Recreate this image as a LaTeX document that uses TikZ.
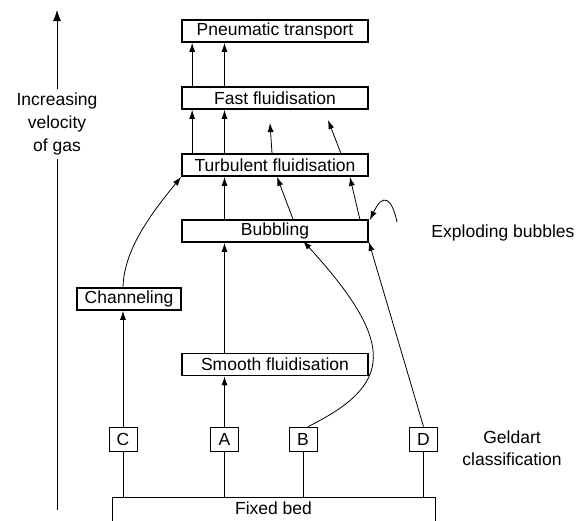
\documentclass[tikz,border=0pt]{standalone}
\usepackage{fontspec}
\setmainfont{Liberation Sans}
\usepackage{tikz}
\usetikzlibrary{positioning}
\usetikzlibrary{calc}
\usepgflibrary{arrows.meta}

\begin{document}
\begin{tikzpicture}[x=1pt, y=-1pt,
    font=\fontsize{17.5}{22}\selectfont,
    regime/.style={draw, line width=1.7pt, minimum width=186pt, minimum height=22pt, inner sep=0pt},
    group/.style={draw, line width=0.8pt, minimum width=28pt, minimum height=24pt, inner sep=0pt},
    flow/.style={draw, line width=0.8pt, -{Latex[length=9pt, width=6pt]}},
    link/.style={draw, line width=0.8pt}]
    \useasboundingbox (0, 0) rectangle (586, 520);
    % regimes
    \node[regime] (pneu) at (275, 31) {Pneumatic transport};
    \node[regime] (fast) at (275, 98) {Fast fluidisation};
    \node[regime] (turb) at (275, 165) {Turbulent fluidisation};
    \node[regime] (bubb) at (275, 231) {Bubbling};
    \node[regime] (smooth) at (275, 364.5) {Smooth fluidisation};
    \node[regime, minimum width=104pt] (chan) at (129, 299) {Channeling};
    % geldart groups
    \node[group] (C) at (123, 439) {C};
    \node[group] (A) at (224.5, 439) {A};
    \node[group] (B) at (303, 439) {B};
    \node[group] (D) at (423.5, 439) {D};
    \node[link, minimum width=323pt, minimum height=26pt, inner sep=0pt, anchor=north] (fixed) at (273.5, 497) {};
    \node (fixedtxt) at (273.5, 508) {Fixed bed};
    % labels
    \node (explode) at (503, 233) {Exploding bubbles};
    \node[align=center] (geldart) at (512, 448) {Geldart\\classification};
    \node[align=center, font=\fontsize{17.5}{23}\selectfont] (vel) at (57, 124) {Increasing\\velocity\\of gas};
    \coordinate (vbot) at (57, 510);
    \coordinate (vtop) at (57, 10);
    \path[link] (vbot) -- (vel);
    \path[flow, -{Latex[length=11pt, width=8pt]}] (vel) -- (vtop);
    % fixed bed to groups
    \foreach \g in {C, A, B, D} {\path[link] (\g |- fixed.north) -- (\g.south);}
    % group C
    \path[flow] (C.north) -- (C |- chan.south);
    \path[flow] (C |- chan.north) .. controls (124, 250) and (150, 215) .. (turb.south west);
    % group A
    \path[flow] (A.north) -- (A |- smooth.south);
    \path[flow] (A |- smooth.north) -- (A |- bubb.south);
    \path[flow] (A |- bubb.north) -- (A |- turb.south);
    \path[flow] ([xshift=11pt]turb.north west) -- ([xshift=11pt]fast.south west);
    \path[flow] (A |- turb.north) -- (A |- fast.south);
    \path[flow] ([xshift=11pt]fast.north west) -- ([xshift=11pt]pneu.south west);
    \path[flow] (A |- fast.north) -- (A |- pneu.south);
    % bubbling upwards
    \path[flow] ([xshift=18pt]bubb.north) -- ([xshift=2pt]turb.south);
    \path[flow] ([xshift=-9pt]bubb.north east) -- ([xshift=-19pt]turb.south east);
    \coordinate (out1) at (270, 123);
    \coordinate (out2) at (328, 120);
    \path[flow] ([xshift=-3pt]turb.north) -- (out1);
    \path[flow] ([xshift=-28pt]turb.north east) -- (out2);
    % group B and D
    \path[flow] ([xshift=5pt]B.north) .. controls (392, 385) and (398, 345) .. ([xshift=28pt, yshift=2pt]bubb.south);
    \path[flow] (D.north) -- ([yshift=1pt]bubb.south east);
    % exploding bubbles
    \coordinate (burst) at (397, 222);
    \path[flow] (burst) .. controls (392, 198) and (383, 192) .. ([xshift=1pt, yshift=-1pt]bubb.north east);
\end{tikzpicture}
\end{document}
